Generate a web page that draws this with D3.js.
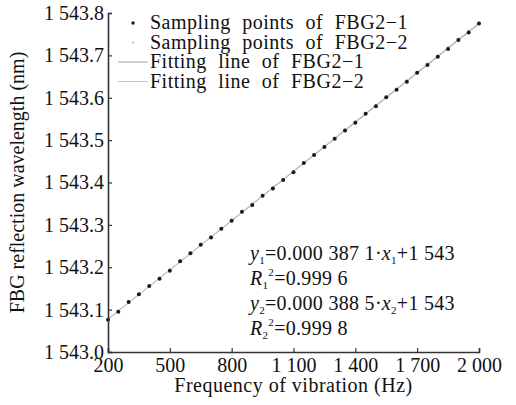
<!DOCTYPE html>
<html>
<head>
<meta charset="utf-8">
<script src="https://cdn.jsdelivr.net/npm/d3@7"></script>
<style>
    body { margin: 0; background: #fff; }
    text { font-family: "Liberation Serif", "Times New Roman", serif; fill: #111; }
</style>
</head>
<body>
<div id="chart"></div>
<script>
// frequencies (Hz)
const freq = [200, 250, 300, 350, 400, 450, 500, 550, 600, 650, 700, 750, 800, 850, 900, 950,
    1000, 1050, 1100, 1150, 1200, 1250, 1300, 1350, 1400, 1450, 1500, 1550, 1600, 1650, 1700,
    1750, 1800, 1850, 1900, 1950, 2000];

// FBG2-1 sampling points (nm)
const fbg1 = [1543.076, 1543.095, 1543.118, 1543.136, 1543.156, 1543.173, 1543.192, 1543.214,
    1543.233, 1543.253, 1543.270, 1543.291, 1543.310, 1543.331, 1543.347, 1543.369, 1543.386,
    1543.406, 1543.424, 1543.446, 1543.465, 1543.484, 1543.503, 1543.523, 1543.541, 1543.562,
    1543.580, 1543.601, 1543.619, 1543.638, 1543.659, 1543.677, 1543.697, 1543.715, 1543.736,
    1543.754, 1543.775];

// FBG2-2 sampling points (nm)
const fbg2 = [1543.078, 1543.098, 1543.116, 1543.137, 1543.155, 1543.175, 1543.195, 1543.213,
    1543.234, 1543.252, 1543.273, 1543.291, 1543.312, 1543.330, 1543.350, 1543.369, 1543.389,
    1543.408, 1543.427, 1543.447, 1543.466, 1543.486, 1543.505, 1543.524, 1543.544, 1543.563,
    1543.583, 1543.602, 1543.622, 1543.641, 1543.660, 1543.680, 1543.699, 1543.719, 1543.738,
    1543.758, 1543.777];

// fitted lines: slope, intercept
const fitSlope = [0.0003871, 0.0003885];
const fitIntercept = [1543, 1543];

const xTicks = [200, 500, 800, 1100, 1400, 1700, 2000];
const yTicks = [1543.0, 1543.1, 1543.2, 1543.3, 1543.4, 1543.5, 1543.6, 1543.7, 1543.8];

const legendLabels = ["Sampling points of FBG2\u22121", "Sampling points of FBG2\u22122",
    "Fitting line of FBG2\u22121", "Fitting line of FBG2\u22122"];

// thousands separated by a space, like the figure
const spaced = s => s.replace(/\B(?=(\d{3})+(?!\d))/g, " ");

const W = 516, H = 405;
const margin = { top: 13, right: 37, bottom: 53, left: 108 };
const width = W - margin.left - margin.right;
const height = H - margin.top - margin.bottom;

const svg = d3.select("#chart").append("svg")
    .attr("width", W)
    .attr("height", H);
const g = svg.append("g")
    .attr("transform", `translate(${margin.left},${margin.top})`);

const x = d3.scaleLinear().domain([200, 2000]).range([0, width]);
const y = d3.scaleLinear().domain([1543.0, 1543.8]).range([height, 0]);

// fitting lines
const line = d3.line().x(d => x(d[0])).y(d => y(d[1]));
[0, 1].forEach(i => {
    g.append("path")
        .attr("d", line([200, 2000].map(f => [f, fitSlope[i] * f + fitIntercept[i]])))
        .attr("fill", "none")
        .attr("stroke", i === 0 ? "#a0a0a0" : "#c4c4c4")
        .attr("stroke-width", 1);
});

// sampling points
g.append("g").selectAll("circle")
    .data(freq.map((f, i) => [f, fbg2[i]]))
    .join("circle")
    .attr("cx", d => x(d[0]))
    .attr("cy", d => y(d[1]))
    .attr("r", 1.3)
    .attr("fill", "#ccc");
g.append("g").selectAll("circle")
    .data(freq.map((f, i) => [f, fbg1[i]]))
    .join("circle")
    .attr("cx", d => x(d[0]))
    .attr("cy", d => y(d[1]))
    .attr("r", 2)
    .attr("fill", "#1a1a1a");

// axes
const xAxis = d3.axisBottom(x).tickValues(xTicks).tickSize(-4).tickPadding(5)
    .tickFormat(d => spaced(String(d)));
const yAxis = d3.axisLeft(y).tickValues(yTicks).tickSize(-4).tickPadding(4)
    .tickFormat(d => spaced(d3.format(".1f")(d)));

const gx = g.append("g").attr("transform", `translate(0,${height})`).call(xAxis);
const gy = g.append("g").call(yAxis);
[gx, gy].forEach(a => {
    a.select(".domain").attr("stroke", "#333").attr("stroke-width", 1.6);
    a.selectAll(".tick line").attr("stroke", "#333").attr("stroke-width", 1.2);
    a.selectAll("text").style("font-size", "20px").attr("fill", "#111");
});
gx.selectAll("text").attr("dy", "0.75em");

// axis titles
svg.append("text")
    .attr("text-anchor", "middle")
    .attr("x", margin.left + width / 2)
    .attr("y", 392)
    .style("font-size", "20px")
    .style("letter-spacing", "0.5px")
    .text("Frequency of vibration (Hz)");
svg.append("text")
    .attr("text-anchor", "middle")
    .attr("transform", `translate(24,${margin.top + height / 2}) rotate(-90)`)
    .style("font-size", "20px")
    .text("FBG reflection wavelength (nm)");

// legend
const legend = svg.append("g").attr("transform", "translate(118,0)");
legendLabels.forEach((lab, i) => {
    const ly = 23 + i * 19.5;
    if (i === 0) {
        legend.append("circle").attr("cx", 15).attr("cy", ly).attr("r", 1.7).attr("fill", "#1a1a1a");
    } else if (i === 1) {
        legend.append("circle").attr("cx", 15).attr("cy", ly).attr("r", 1.3).attr("fill", "#ccc");
    } else {
        legend.append("line").attr("x1", 0).attr("x2", 30).attr("y1", ly).attr("y2", ly)
            .attr("stroke", i === 2 ? "#a0a0a0" : "#c4c4c4").attr("stroke-width", 1);
    }
    legend.append("text")
        .attr("x", 32)
        .attr("y", ly)
        .attr("dy", "0.32em")
        .style("font-size", "20px")
        .style("letter-spacing", "0.5px")
        .style("word-spacing", "6px")
        .text(lab);
});

// fit equations
const eq = svg.append("g").attr("transform", "translate(250,0)");
const eqRows = [
    { v: "y", s: "1", rest: "=0.000 387 1\u00b7", x: true },
    { v: "R", s: "1", rest: "=0.999 6", x: false },
    { v: "y", s: "2", rest: "=0.000 388 5\u00b7", x: true },
    { v: "R", s: "2", rest: "=0.999 8", x: false }
];
eqRows.forEach((r, i) => {
    const t = eq.append("text")
        .attr("x", 0)
        .attr("y", 260 + i * 25)
        .style("font-size", "20px")
        .style("letter-spacing", "0.3px");
    t.append("tspan").style("font-style", "italic").text(r.v);
    t.append("tspan").attr("dy", 4).style("font-size", "11px").text(r.s);
    if (r.x) {
        t.append("tspan").attr("dy", -4).text(r.rest);
        t.append("tspan").style("font-style", "italic").text("x");
        t.append("tspan").attr("dy", 4).style("font-size", "11px").text(r.s);
        t.append("tspan").attr("dy", -4).text("+1 543");
    } else {
        t.append("tspan").attr("dy", -13).style("font-size", "11px").text("2");
        t.append("tspan").attr("dy", 9).text(r.rest);
    }
});
</script>
</body>
</html>
